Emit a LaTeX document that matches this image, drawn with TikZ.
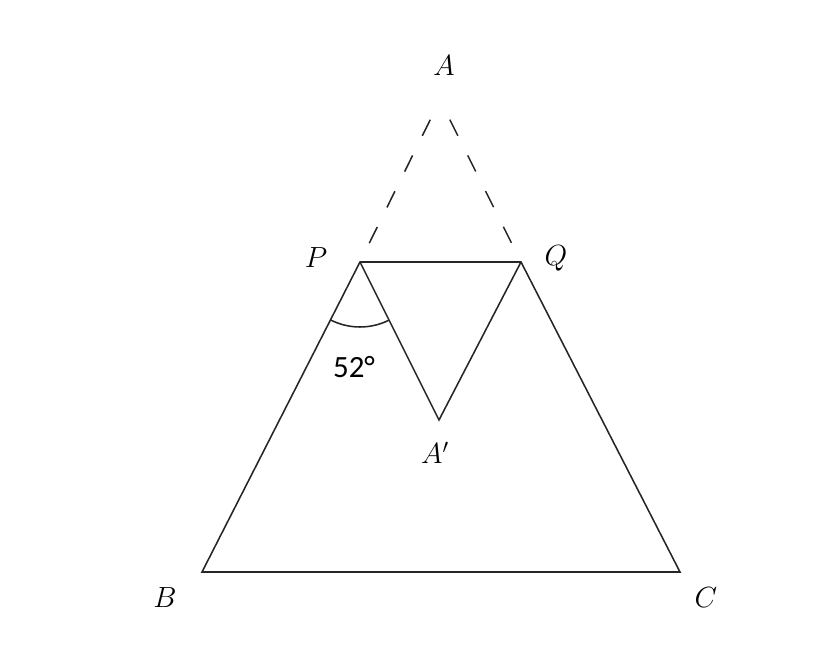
\documentclass[tikz,border=0pt]{standalone}
\usepackage{fontspec}
\newfontfamily\digitfont{Carlito}
\usepackage{amssymb}
\usepackage{amsmath}

\tikzset{
	edge/.style={draw=black!85, line width=1.1pt},
	fold/.style={edge, dash pattern=on 12.8pt off 15.6pt, dash phase=12.8pt},
	lbl/.style={font=\fontsize{20}{24}\selectfont}
}

\begin{document}
\begin{tikzpicture}[x=0.025cm, y=0.025cm]
		\useasboundingbox (0,0) rectangle (816,650);
		% points of the triangle
		\coordinate (A) at (440,550);
		\coordinate (P) at (360,388);
		\coordinate (Q) at (521,388);
		\coordinate (B) at (202,78);
		\coordinate (C) at (680,78);
		\coordinate (A1) at (439,230);
		
		\draw[fold] (A) -- (P);
		\draw[fold] (A) -- (Q);
		\draw[edge] (P) -- (Q) -- (C) -- (B) -- cycle;
		\draw[edge] (P) -- (A1) -- (Q);
		\draw[edge] (P) ++(243:65) arc (243:296.6:65);
		
		\node[lbl] (lA) at (444,584) {$A$};
		\node[lbl] (lP) at (316,392) {$P$};
		\node[lbl] (lQ) at (556,392) {$Q$};
		\node[lbl] (lB) at (165,52) {$B$};
		\node[lbl] (lC) at (706,52) {$C$};
		\node[lbl] (lA1) at (435,197) {$A'$};
		\node[font=\fontsize{22}{26}\selectfont] (ang) at (354,283) {\digitfont 52°};
		
	\end{tikzpicture}
\end{document}
